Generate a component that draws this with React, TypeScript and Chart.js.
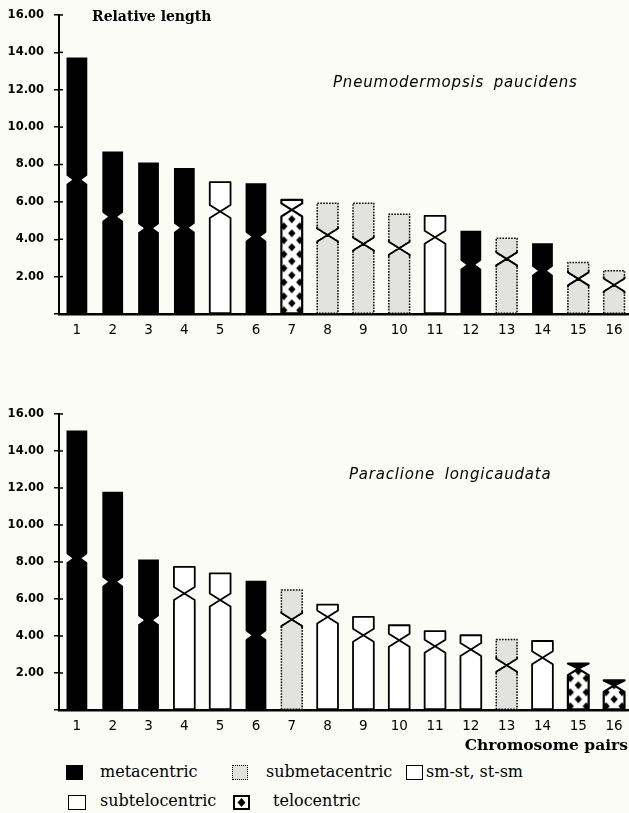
import React, { useEffect, useRef } from "react";
import { Chart, registerables } from "chart.js";
Chart.register(...registerables);

// ---------- data ----------
const pairs = ["1", "2", "3", "4", "5", "6", "7", "8", "9", "10", "11", "12", "13", "14", "15", "16"];
const yMin = 0;
const yMax = 16;
const yStep = 2;

// Pneumodermopsis paucidens
const paucidensLength = [13.73, 8.70, 8.11, 7.81, 7.06, 7.00, 6.11, 5.93, 5.93, 5.34, 5.25, 4.45, 4.06, 3.79, 2.75, 2.32];
const paucidensCentromere = [7.18, 5.21, 4.59, 4.62, 5.48, 4.14, 5.57, 4.23, 3.74, 3.52, 4.11, 2.63, 2.95, 2.32, 1.88, 1.55];
const paucidensType = ["m", "m", "m", "m", "st", "m", "t", "sm", "sm", "sm", "smst", "m", "sm", "m", "sm", "sm"];

// Paraclione longicaudata
const longicaudataLength = [15.11, 11.80, 8.14, 7.74, 7.38, 6.98, 6.48, 5.70, 5.03, 4.58, 4.26, 4.04, 3.81, 3.73, 2.51, 1.60];
const longicaudataCentromere = [8.20, 6.93, 4.85, 6.30, 5.94, 4.04, 4.89, 5.03, 4.04, 3.77, 3.45, 3.27, 2.42, 2.83, 2.24, 1.33];
const longicaudataType = ["m", "m", "m", "st", "st", "m", "sm", "smst", "smst", "smst", "smst", "smst", "sm", "smst", "t", "t"];

const yAxisTitle = "Relative length";
const xAxisTitle = "Chromosome pairs";
const species1 = "Pneumodermopsis paucidens";
const species2 = "Paraclione longicaudata";
const legendTypes = ["m", "sm", "smst", "st", "t"];
const legendLabels = ["metacentric", "submetacentric", "sm-st, st-sm", "subtelocentric", "telocentric"];

// ---------- style ----------
const BG = "#fcfcf6";
const GRAY = "#e2e2de";
const SERIF = "'DejaVu Serif', serif";
const SANS = "'DejaVu Sans', sans-serif";
const TW = 16;
const TH = 14;

function makePattern(): CanvasPattern {
  const c = document.createElement("canvas");
  c.width = TW;
  c.height = TH;
  const g = c.getContext("2d")!;
  g.fillStyle = "#fff";
  g.fillRect(0, 0, TW, TH);
  g.fillStyle = "#000";
  const dia = (cx: number, cy: number) => {
    g.beginPath();
    g.moveTo(cx, cy - 3.9);
    g.lineTo(cx + 3.7, cy);
    g.lineTo(cx, cy + 3.9);
    g.lineTo(cx - 3.7, cy);
    g.closePath();
    g.fill();
  };
  dia(TW / 2, TH / 2);
  dia(0, 0);
  dia(TW, 0);
  dia(0, TH);
  dia(TW, TH);
  return g.createPattern(c, "repeat")!;
}

function Idiogram(props: { lengths: number[]; centro: number[]; types: string[]; top: number; height: number; padTop: number }) {
  const ref = useRef<HTMLCanvasElement>(null);
  useEffect(() => {
    const { lengths, centro, types, padTop } = props;
    const patterns = types.map((t) => (t === "t" ? makePattern() : null));
    const colors = types.map((t, i) =>
      t === "m" ? "#000" : t === "sm" ? GRAY : t === "t" ? (patterns[i] as any) : "#fff"
    );

    const notchPlugin = {
      id: "notch",
      beforeDatasetsDraw(chart: any) {
        const meta = chart.getDatasetMeta(0);
        meta.data.forEach((el: any, i: number) => {
          const p = patterns[i];
          if (p && (p as any).setTransform) {
            (p as any).setTransform(new DOMMatrix([1, 0, 0, 1, el.x - TW / 2, el.base - 3]));
          }
        });
      },
      afterDatasetsDraw(chart: any) {
        const meta = chart.getDatasetMeta(0);
        const ys = chart.scales.y;
        const ctx: CanvasRenderingContext2D = chart.ctx;
        meta.data.forEach((el: any, i: number) => {
          const { x, y, base, width } = el.getProps(["x", "y", "base", "width"], true);
          const L = x - width / 2;
          const R = x + width / 2;
          const top = Math.min(y, base);
          const bottom = Math.max(y, base);
          const cy = ys.getPixelForValue(centro[i]);
          const t = types[i];
          ctx.save();
          if (t === "m") {
            const h = 5;
            const d = width * 0.28;
            ctx.globalCompositeOperation = "destination-out";
            ctx.beginPath();
            ctx.moveTo(L - 1, cy - h);
            ctx.lineTo(L + d, cy);
            ctx.lineTo(L - 1, cy + h);
            ctx.closePath();
            ctx.moveTo(R + 1, cy - h);
            ctx.lineTo(R - d, cy);
            ctx.lineTo(R + 1, cy + h);
            ctx.closePath();
            ctx.fill();
          } else {
            const h = 6.5;
            const hTop = Math.max(0, Math.min(h, cy - top));
            ctx.globalCompositeOperation = "destination-out";
            ctx.beginPath();
            ctx.moveTo(L - 2, cy - hTop);
            ctx.lineTo(x, cy);
            ctx.lineTo(L - 2, cy + h);
            ctx.closePath();
            ctx.moveTo(R + 2, cy - hTop);
            ctx.lineTo(x, cy);
            ctx.lineTo(R + 2, cy + h);
            ctx.closePath();
            ctx.fill();
            ctx.globalCompositeOperation = "source-over";
            if (t === "t") {
              // short arm: solid cap when very short, otherwise plain white
              ctx.fillStyle = hTop < h ? "#000" : "#fff";
              ctx.beginPath();
              ctx.moveTo(L, top);
              ctx.lineTo(R, top);
              ctx.lineTo(R, cy - hTop);
              ctx.lineTo(x, cy);
              ctx.lineTo(L, cy - hTop);
              ctx.closePath();
              ctx.fill();
            }
            ctx.lineWidth = 1.8;
            ctx.strokeStyle = "#000";
            ctx.lineJoin = "round";
            if (t === "sm") {
              ctx.setLineDash([1.6, 1.3]);
              ctx.lineWidth = 1.5;
            }
            if (t === "t") ctx.lineWidth = 2.2;
            ctx.beginPath();
            ctx.moveTo(L, bottom);
            ctx.lineTo(L, cy + h);
            ctx.lineTo(x, cy);
            ctx.lineTo(L, cy - hTop);
            ctx.lineTo(L, top);
            ctx.lineTo(R, top);
            ctx.lineTo(R, cy - hTop);
            ctx.lineTo(x, cy);
            ctx.lineTo(R, cy + h);
            ctx.lineTo(R, bottom);
            ctx.closePath();
            ctx.stroke();
            if (t === "sm") {
              ctx.setLineDash([]);
              ctx.lineWidth = 1.8;
              ctx.beginPath();
              ctx.moveTo(L, cy - hTop - 2);
              ctx.lineTo(L, cy - hTop);
              ctx.lineTo(x, cy);
              ctx.lineTo(L, cy + h);
              ctx.lineTo(L, cy + h + 2);
              ctx.moveTo(R, cy - hTop - 2);
              ctx.lineTo(R, cy - hTop);
              ctx.lineTo(x, cy);
              ctx.lineTo(R, cy + h);
              ctx.lineTo(R, cy + h + 2);
              ctx.stroke();
            }
          }
          ctx.restore();
        });
      },
      afterDraw(chart: any) {
        const ys = chart.scales.y;
        const ctx: CanvasRenderingContext2D = chart.ctx;
        const left = chart.chartArea.left;
        ctx.save();
        ctx.strokeStyle = "#000";
        ctx.lineWidth = 1.5;
        ys.ticks.forEach((tk: any) => {
          if (tk.value === 0) return;
          const py = ys.getPixelForValue(tk.value);
          ctx.beginPath();
          ctx.moveTo(left, py);
          ctx.lineTo(left + 4, py);
          ctx.stroke();
        });
        ctx.restore();
      },
    };

    const chart = new Chart(ref.current!, {
      type: "bar",
      data: {
        labels: pairs,
        datasets: [
          {
            data: lengths,
            backgroundColor: colors as any,
            borderWidth: 0,
            barPercentage: 0.58,
            categoryPercentage: 1,
          },
        ],
      },
      options: {
        responsive: false,
        animation: false,
        devicePixelRatio: 1,
        layout: { padding: { top: padTop, left: 0, right: 0, bottom: 0 } },
        plugins: { legend: { display: false }, tooltip: { enabled: false } },
        scales: {
          x: {
            z: 1,
            offset: true,
            grid: { display: false, drawTicks: false },
            border: { display: true, color: "#000", width: 2.5 },
            ticks: { color: "#000", padding: 8, font: { family: SANS, size: 13.5 }, maxRotation: 0, autoSkip: false },
            afterFit: (s: any) => {
              s.height = 31;
              s.paddingLeft = 0;
              s.paddingRight = 0;
            },
          },
          y: {
            z: 1,
            min: yMin,
            max: yMax,
            grid: { display: true, drawOnChartArea: false, drawTicks: true, tickLength: 5, color: "#000", lineWidth: 1.5 },
            border: { display: true, color: "#000", width: 2 },
            ticks: {
              stepSize: yStep,
              color: "#000",
              padding: 10,
              font: { family: SANS, size: 11.5, weight: "bold" },
              callback: (v: any) => (Number(v) === 0 ? "" : Number(v).toFixed(2)),
            },
            afterFit: (s: any) => {
              s.width = 59;
              s.paddingTop = 0;
              s.paddingBottom = 0;
            },
          },
        },
      },
      plugins: [notchPlugin],
    } as any);
    return () => chart.destroy();
  }, []);
  return (
    <canvas
      ref={ref}
      width={632}
      height={props.height}
      style={{ position: "absolute", left: 0, top: props.top, width: 632, height: props.height }}
    />
  );
}

function Swatch(props: { type: string; left: number; top: number; w: number }) {
  const { type, left, top, w } = props;
  const base: React.CSSProperties = { position: "absolute", left, top, width: w, height: 15, boxSizing: "border-box" };
  if (type === "m") return <div style={{ ...base, background: "#000" }} />;
  if (type === "sm") return <div style={{ ...base, background: GRAY, border: "1.5px dotted #000" }} />;
  if (type === "t")
    return (
      <svg style={{ position: "absolute", left, top }} width={w} height={15}>
        <rect x={0} y={0} width={w} height={15} fill="#fff" />
        <polygon points={`${w / 2},3 ${w / 2 + 4},7.5 ${w / 2},12 ${w / 2 - 4},7.5`} fill="#000" />
        <polygon points={`0,0 4,0 0,4`} fill="#000" />
        <polygon points={`${w},0 ${w - 4},0 ${w},4`} fill="#000" />
        <polygon points={`0,15 4,15 0,11`} fill="#000" />
        <polygon points={`${w},15 ${w - 4},15 ${w},11`} fill="#000" />
        <rect x={1} y={1} width={w - 2} height={13} fill="none" stroke="#000" strokeWidth={2} />
      </svg>
    );
  return <div style={{ ...base, background: "#fff", border: "1.5px solid #000" }} />;
}

function Txt(props: { text: string; left?: number; right?: number; baseline: number; size: number; style?: React.CSSProperties }) {
  const { text, left, right, baseline, size, style } = props;
  return (
    <div
      style={{
        position: "absolute",
        left,
        right,
        top: baseline - 0.846 * size,
        fontSize: size,
        lineHeight: 1,
        whiteSpace: "nowrap",
        color: "#000",
        ...style,
      }}
    >
      {text}
    </div>
  );
}

export default function App() {
  const swatchPos = [
    { left: 66, top: 765, w: 17, tx: 100, base: 778 },
    { left: 232, top: 765, w: 16, tx: 266, base: 778 },
    { left: 406, top: 765, w: 17, tx: 426, base: 778 },
    { left: 68, top: 795, w: 18, tx: 100, base: 807 },
    { left: 233, top: 795, w: 17, tx: 273, base: 807 },
  ];
  return (
    <div
      style={{
        position: "fixed",
        left: 0,
        top: 0,
        width: 629,
        height: 813,
        overflow: "hidden",
        background: BG,
      }}
    >
      <Idiogram lengths={paucidensLength} centro={paucidensCentromere} types={paucidensType} top={0} height={345} padTop={15} />
      <Idiogram lengths={longicaudataLength} centro={longicaudataCentromere} types={longicaudataType} top={400} height={341} padTop={14} />
      <Txt text={yAxisTitle} left={92} baseline={21} size={14} style={{ fontFamily: SERIF, fontWeight: "bold" }} />
      <Txt
        text={species1}
        left={333}
        baseline={88}
        size={15}
        style={{ fontFamily: SANS, fontStyle: "italic", letterSpacing: 0.8, wordSpacing: 4 }}
      />
      <Txt
        text={species2}
        left={349}
        baseline={480}
        size={15}
        style={{ fontFamily: SANS, fontStyle: "italic", letterSpacing: 0.8, wordSpacing: 4 }}
      />
      <Txt text={xAxisTitle} right={1} baseline={750} size={15.5} style={{ fontFamily: SERIF, fontWeight: "bold" }} />
      {legendTypes.map((t, i) => (
        <React.Fragment key={t}>
          <Swatch type={t} left={swatchPos[i].left} top={swatchPos[i].top} w={swatchPos[i].w} />
          <Txt text={legendLabels[i]} left={swatchPos[i].tx} baseline={swatchPos[i].base} size={16} style={{ fontFamily: SERIF }} />
        </React.Fragment>
      ))}
    </div>
  );
}
